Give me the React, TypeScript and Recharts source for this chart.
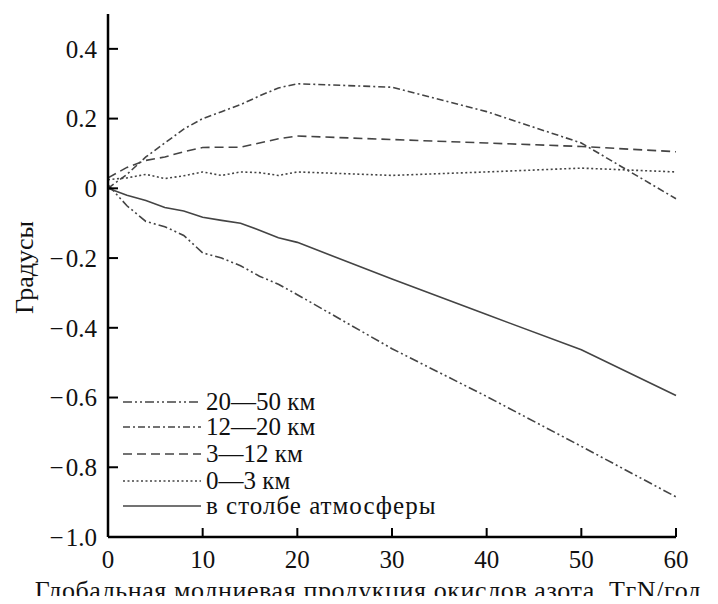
import { LineChart, Line, XAxis, YAxis, Legend } from 'recharts';

// global lightning NOx production, TgN/yr
const production = [0, 2, 4, 6, 8, 10, 12, 14, 16, 18, 20, 30, 40, 50, 60];

// temperature change, degrees
const column = [0, -0.02, -0.035, -0.055, -0.065, -0.083, -0.092, -0.1, -0.12, -0.142, -0.155, -0.26, -0.362, -0.463, -0.594];
const km0to3 = [0.025, 0.03, 0.04, 0.028, 0.036, 0.047, 0.037, 0.047, 0.045, 0.037, 0.047, 0.037, 0.047, 0.058, 0.047];
const km3to12 = [0.03, 0.06, 0.08, 0.09, 0.105, 0.117, 0.118, 0.118, 0.13, 0.142, 0.15, 0.14, 0.13, 0.12, 0.105];
const km12to20 = [0, 0.04, 0.09, 0.13, 0.17, 0.2, 0.22, 0.24, 0.265, 0.288, 0.3, 0.29, 0.22, 0.13, -0.03];
const km20to50 = [0.01, -0.05, -0.095, -0.11, -0.135, -0.185, -0.2, -0.222, -0.252, -0.275, -0.305, -0.46, -0.597, -0.74, -0.885];

const xTicks = [0, 10, 20, 30, 40, 50, 60];
const yTicks = [-1, -0.8, -0.6, -0.4, -0.2, 0, 0.2, 0.4];

const data = production.map((x, i) => ({
  x,
  column: column[i],
  km0to3: km0to3[i],
  km3to12: km3to12[i],
  km12to20: km12to20[i],
  km20to50: km20to50[i],
}));

const FONT = "'Liberation Serif', 'Times New Roman', Times, 'DejaVu Serif', serif";
const FS = 25;
const INK = '#444';

const series = [
  { key: 'km20to50', name: '20\u201450 км', dash: '9 3 2 3 2 3', width: 1.6 },
  { key: 'km12to20', name: '12\u201420 км', dash: '7 3 2 3', width: 1.6 },
  { key: 'km3to12', name: '3\u201412 км', dash: '9 5', width: 1.6 },
  { key: 'km0to3', name: '0\u20143 км', dash: '2 2.5', width: 1.6 },
  { key: 'column', name: 'в столбе атмосферы', dash: undefined, width: 1.6 },
];
const rowHeights = [25, 26, 28, 25, 26];

const fmtY = (v: number) => (v === 0 ? '0' : v.toFixed(1).replace('-', '\u2212\u200A'));

function LegendBox() {
  return (
    <div style={{ fontFamily: FONT, fontSize: 25, color: '#111', whiteSpace: 'nowrap' }}>
      {series.map((s, i) => (
        <div key={s.key} style={{ display: 'flex', alignItems: 'center', height: rowHeights[i] }}>
          <svg width={78} height={10} style={{ marginRight: 5, flex: 'none' }}>
            <line x1={0} y1={5} x2={78} y2={5} stroke={INK} strokeWidth={s.width} strokeDasharray={s.dash} />
          </svg>
          <span style={{ lineHeight: '24px', letterSpacing: i === 4 ? 1 : 0 }}>{s.name}</span>
        </div>
      ))}
    </div>
  );
}

export default function App() {
  return (
    <div style={{ margin: -8, width: 718, height: 604, background: '#fff' }}>
      <LineChart width={718} height={604} data={data} margin={{ top: 14, right: 42, left: 0, bottom: 27 }}>
        <XAxis
          dataKey="x"
          type="number"
          domain={[0, 60]}
          ticks={xTicks}
          height={40}
          stroke="#000"
          axisLine={{ stroke: '#000', strokeWidth: 2.5 }}
          tickLine={{ stroke: '#000', strokeWidth: 2 }}
          tickSize={-9}
          tickMargin={22}
          tick={{ fontFamily: FONT, fontSize: FS, fill: '#111' }}
          label={(props: any) => {
            const vb = props.viewBox;
            return (
              <text x={vb.x + vb.width / 2 - 24} y={599} textAnchor="middle" fontFamily={FONT} fontSize={26} letterSpacing={0.6} fill="#111">
                Глобальная молниевая продукция окислов азота, TгN/год
              </text>
            );
          }}
        />
        <YAxis
          type="number"
          domain={[-1, 0.5]}
          ticks={yTicks}
          width={108}
          stroke="#000"
          axisLine={{ stroke: '#000', strokeWidth: 2.5 }}
          tickLine={{ stroke: '#000', strokeWidth: 2 }}
          tickSize={-10}
          tickMargin={21}
          tickFormatter={fmtY}
          tick={{ fontFamily: FONT, fontSize: FS, fill: '#111' }}
          label={(props: any) => {
            const vb = props.viewBox;
            const cy = vb.y + vb.height / 2 - 8;
            return (
              <text x={33} y={cy} transform={`rotate(-90 33 ${cy})`} textAnchor="middle" fontFamily={FONT} fontSize={26} fill="#111">
                Градусы
              </text>
            );
          }}
        />
        <Legend
          layout="vertical"
          align="center"
          verticalAlign="middle"
          wrapperStyle={{ left: 123, top: 389, width: 400 }}
          content={() => <LegendBox />}
        />
        {series.map((s) => (
          <Line
            key={s.key}
            dataKey={s.key}
            name={s.name}
            stroke={INK}
            strokeWidth={s.width}
            strokeDasharray={s.dash}
            dot={false}
            activeDot={false}
            isAnimationActive={false}
          />
        ))}
      </LineChart>
    </div>
  );
}
